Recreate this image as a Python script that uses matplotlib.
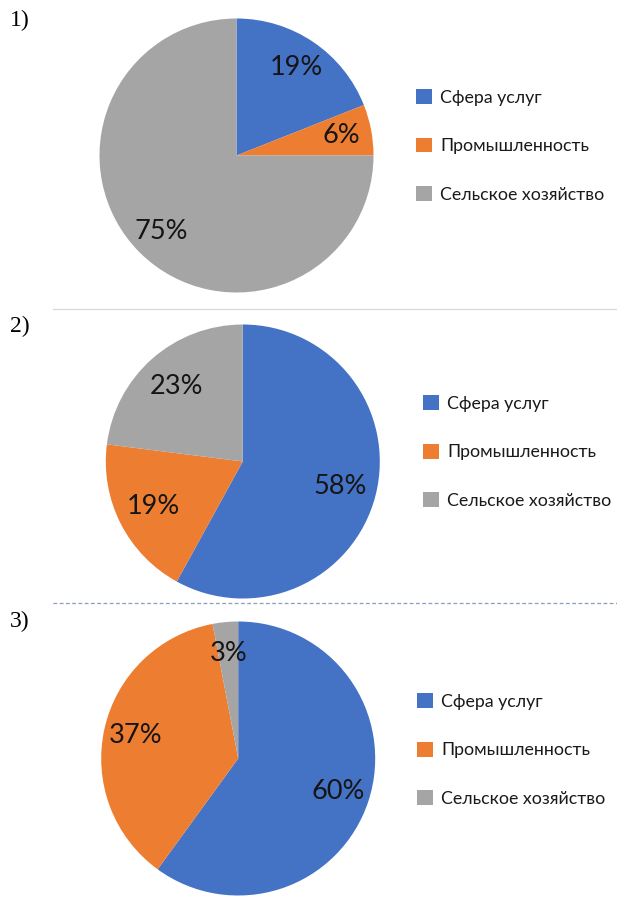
"""Три круговые диаграммы: структура занятости по секторам."""

import matplotlib
matplotlib.use("Agg")
import matplotlib.pyplot as plt
from matplotlib.lines import Line2D
from matplotlib.patches import Patch

# --- данные ---
categories = ["Сфера услуг", "Промышленность", "Сельское хозяйство"]
shares_1 = [19, 6, 75]
shares_2 = [58, 19, 23]
shares_3 = [60, 37, 3]
panel_labels = ["1)", "2)", "3)"]

COLORS = ["#4472C4", "#ED7D31", "#A5A5A5"]
W, H = 617, 897

plt.rcParams["font.family"] = ["Lato", "DejaVu Sans"]

fig = plt.figure(figsize=(W / 100, H / 100), dpi=100)
fig.patch.set_facecolor("white")

# (center x, center y, radius, pctdistance, legend x, legend center y, label y)
panels = [
    (shares_1, 236.5, 155.5, 137, 0.78, 416, 146, 10),
    (shares_2, 242.8, 461.5, 137, 0.73, 423, 452, 316),
    (shares_3, 238.2, 758.5, 137, 0.77, 417, 750, 611),
]

handles = [Patch(facecolor=c, edgecolor="none") for c in COLORS]

for (values, cx, cy, r, pctd, lx, ly, ty), tag in zip(panels, panel_labels):
    ax = fig.add_axes([(cx - r) / W, 1 - (cy + r) / H, 2 * r / W, 2 * r / H])
    ax.pie(
        values,
        colors=COLORS,
        startangle=90,
        counterclock=False,
        autopct=lambda p: f"{p:.0f}%",
        pctdistance=pctd,
        wedgeprops={"linewidth": 0},
        textprops={"fontsize": 19.5, "color": "#151515"},
    )
    ax.set_xlim(-1, 1)
    ax.set_ylim(-1, 1)
    ax.set_aspect("equal")
    ax.axis("off")

    fig.legend(
        handles,
        categories,
        loc="center left",
        bbox_to_anchor=(lx / W, 1 - ly / H),
        frameon=False,
        fontsize=12.8,
        labelcolor="#1a1a1a",
        handlelength=0.9,
        handleheight=0.9,
        handletextpad=0.45,
        labelspacing=1.8,
        borderpad=0,
        borderaxespad=0,
    )

    fig.text(10 / W, 1 - ty / H, tag, family="Liberation Serif",
             fontsize=17, va="top", ha="left", color="black")

# разделители между панелями
fig.add_artist(Line2D([53 / W, 1], [1 - 309 / H] * 2, color="#d9d9d9", lw=0.9))
fig.add_artist(Line2D([53 / W, 1], [1 - 603 / H] * 2, color="#8a9cbc", lw=0.9,
                      linestyle=(0, (3, 2))))

fig.savefig("out.png", dpi=100)
plt.close(fig)
